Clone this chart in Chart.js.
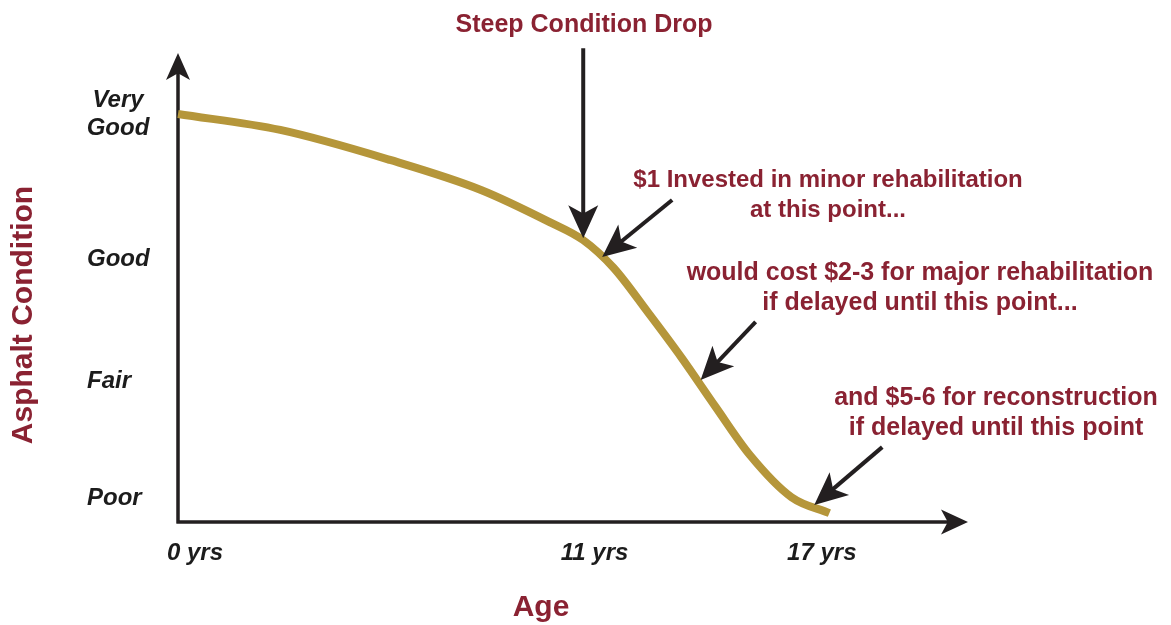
<!DOCTYPE html>
<html>
<head>
<meta charset="utf-8">
<script src="https://cdn.jsdelivr.net/npm/chart.js@4.4.1/dist/chart.umd.min.js"></script>
<style>
    html, body { margin: 0; padding: 0; background: #fff; }
    #wrap { width: 1171px; height: 625px; position: relative; }
</style>
</head>
<body>
<div id="wrap"><canvas id="chart"></canvas></div>
<script>
// pavement age (years) and condition index
const ages = [0, 2.7, 5.6, 8.0, 9.8, 10.7, 11.5, 12.4, 13.3, 14.2, 15.1, 16.2, 17.2]
const condition = [87.0, 83.6, 77.2, 70.8, 64.0, 60.1, 54.2, 44.8, 35.0, 24.5, 14.3, 5.3, 1.9]

const x_tick_values = [0, 11, 17]
const x_tick_labels = ['0 yrs', '11 yrs', '17 yrs']
const y_tick_values = [87, 56, 30, 5]
const y_tick_labels = [['Very', 'Good'], ['Good'], ['Fair'], ['Poor']]

// callouts: the point on the curve each arrow points at, and its text
const callout_targets = [[10.7, 60.5], [11.2, 56.5], [13.8, 30.3], [16.8, 3.6]]
const callout_texts = [
    ['Steep Condition Drop'],
    ['$1 Invested in minor rehabilitation', 'at this point...'],
    ['would cost $2-3 for major rehabilitation', 'if delayed until this point...'],
    ['and $5-6 for reconstruction', 'if delayed until this point']
]

// layout of callouts (pixels)
const callout_tails = [[0, -190], [70, -57], [55, -58], [68, -58]]
const callout_text_pos = [[584, 25], [828, 180], [920, 273], [996, 398]]
const callout_font_px = [25, 24, 25, 25]

const MAROON = '#8a2232'
const INK = '#231f20'
const CURVE = '#b5963a'

function draw_arrow(ctx, x1, y1, x2, y2, head_len, head_w, shaft_w) {
    const a = Math.atan2(y2 - y1, x2 - x1)
    const cos = Math.cos(a)
    const sin = Math.sin(a)
    ctx.save()
    ctx.strokeStyle = INK
    ctx.fillStyle = INK
    if (shaft_w > 0) {
        ctx.lineWidth = shaft_w
        ctx.lineCap = 'butt'
        ctx.beginPath()
        ctx.moveTo(x1, y1)
        ctx.lineTo(x2 - cos * head_len * 0.7, y2 - sin * head_len * 0.7)
        ctx.stroke()
    }
    const bx = x2 - cos * head_len
    const by = y2 - sin * head_len
    const nx = x2 - cos * head_len * 0.75
    const ny = y2 - sin * head_len * 0.75
    ctx.beginPath()
    ctx.moveTo(x2, y2)
    ctx.lineTo(bx - sin * head_w / 2, by + cos * head_w / 2)
    ctx.lineTo(nx, ny)
    ctx.lineTo(bx + sin * head_w / 2, by - cos * head_w / 2)
    ctx.closePath()
    ctx.fill()
    ctx.restore()
}

const axes_plugin = {
    id: 'axes_plugin',
    beforeDatasetsDraw(chart) {
        const { ctx, chartArea } = chart
        const { left, right, top, bottom } = chartArea
        ctx.save()
        ctx.strokeStyle = INK
        ctx.lineWidth = 3.5
        ctx.beginPath()
        ctx.moveTo(left, bottom + 1.5)
        ctx.lineTo(left, top + 20)
        ctx.moveTo(left - 1.5, bottom)
        ctx.lineTo(right - 20, bottom)
        ctx.stroke()
        ctx.restore()
        draw_arrow(ctx, left, bottom, left, top, 27, 24, 0)
        draw_arrow(ctx, left, bottom, right, bottom, 27, 25, 0)

        // tick labels
        const x = chart.scales.x
        const y = chart.scales.y
        ctx.save()
        ctx.fillStyle = '#1c1c1c'
        ctx.font = 'italic bold 24px "Liberation Sans", Arial, sans-serif'
        ctx.textBaseline = 'middle'
        x_tick_values.forEach((v, i) => {
            const px = x.getPixelForValue(v)
            if (i === 0) {
                ctx.textAlign = 'left'
                ctx.fillText(x_tick_labels[i], px - 11, bottom + 31)
            } else {
                ctx.textAlign = 'center'
                ctx.fillText(x_tick_labels[i], px, bottom + 31)
            }
        })
        y_tick_values.forEach((v, i) => {
            const py = y.getPixelForValue(v)
            const lines = y_tick_labels[i]
            if (lines.length > 1) {
                ctx.textAlign = 'center'
                lines.forEach((t, j) => ctx.fillText(t, left - 60, py + (j - (lines.length - 1) / 2) * 28))
            } else {
                ctx.textAlign = 'left'
                ctx.fillText(lines[0], left - 91, py)
            }
        })

        // axis titles
        ctx.fillStyle = MAROON
        ctx.font = 'bold 30px "Liberation Sans", Arial, sans-serif'
        ctx.textAlign = 'center'
        ctx.fillText('Age', (left + right) / 2 - 32, bottom + 86)
        ctx.translate(24, 315)
        ctx.rotate(-Math.PI / 2)
        ctx.fillText('Asphalt Condition', 0, 0)
        ctx.restore()
    },
    afterDatasetsDraw(chart) {
        const { ctx } = chart
        const x = chart.scales.x
        const y = chart.scales.y
        callout_targets.forEach((t, i) => {
            const tx = x.getPixelForValue(t[0])
            const ty = y.getPixelForValue(t[1])
            const [dx, dy] = callout_tails[i]
            draw_arrow(ctx, tx + dx, ty + dy, tx, ty, 33, 30, 4)
        })
        ctx.save()
        ctx.fillStyle = MAROON
        ctx.textAlign = 'center'
        ctx.textBaseline = 'middle'
        callout_texts.forEach((lines, i) => {
            const [cx, cy] = callout_text_pos[i]
            ctx.font = 'bold ' + callout_font_px[i] + 'px "Liberation Sans", Arial, sans-serif'
            lines.forEach((t, j) => ctx.fillText(t, cx, cy + j * 30))
        })
        ctx.restore()
    }
}

const chart = new Chart(document.getElementById('chart').getContext('2d'), {
    type: 'line',
    data: {
        datasets: [{
            data: ages.map((a, i) => ({ x: a, y: condition[i] })),
            borderColor: CURVE,
            borderWidth: 8,
            borderCapStyle: 'butt',
            pointRadius: 0,
            fill: false,
            cubicInterpolationMode: 'monotone',
            clip: false
        }]
    },
    plugins: [axes_plugin],
    options: {
        responsive: true,
        maintainAspectRatio: false,
        animation: false,
        layout: { padding: { left: 178, right: 203, top: 53, bottom: 103 } },
        plugins: { legend: { display: false }, tooltip: { enabled: false } },
        scales: {
            x: { type: 'linear', min: 0, max: 20.86, display: false },
            y: { type: 'linear', min: 0, max: 100, display: false }
        }
    }
})
</script>
</body>
</html>
